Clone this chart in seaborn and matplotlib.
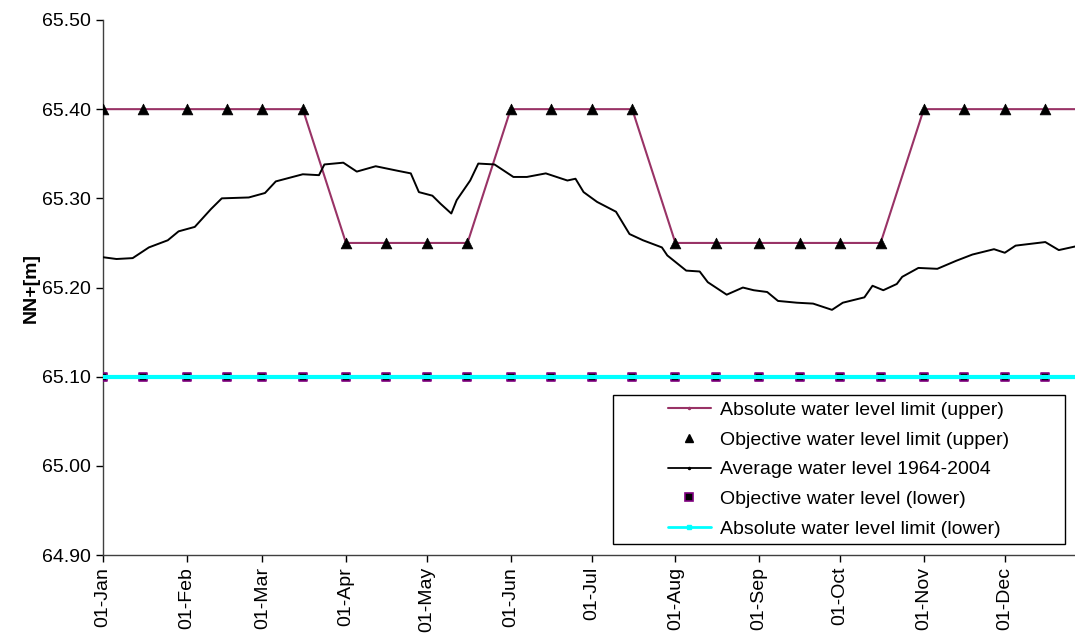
import matplotlib

matplotlib.use("Agg")
import matplotlib.pyplot as plt
import seaborn as sns
from matplotlib.lines import Line2D
from matplotlib.patches import Rectangle
from matplotlib.ticker import FormatStrFormatter


COLORS = {
    "upper": "#993366",
    "average": "#000000",
    "lower_obj_face": "#000000",
    "lower_obj_edge": "#800080",
    "lower": "#00FFFF",
}

# day-of-year index (0 = 01-Jan)
MONTH_START_DAYS = [0, 31, 59, 90, 120, 151, 181, 212, 243, 273, 304, 334]
MONTH_LABELS = ["01-Jan", "01-Feb", "01-Mar", "01-Apr", "01-May", "01-Jun",
                "01-Jul", "01-Aug", "01-Sep", "01-Oct", "01-Nov", "01-Dec"]

# objective points on the 1st and 16th of each month
OBJ_DAYS = [0, 15, 31, 46, 59, 74, 90, 105, 120, 135, 151, 166,
            181, 196, 212, 227, 243, 258, 273, 288, 304, 319, 334, 349]
OBJ_UPPER = [65.40, 65.40, 65.40, 65.40, 65.40, 65.40,
             65.25, 65.25, 65.25, 65.25,
             65.40, 65.40, 65.40, 65.40,
             65.25, 65.25, 65.25, 65.25, 65.25, 65.25,
             65.40, 65.40, 65.40, 65.40]
OBJ_LOWER = [65.10] * len(OBJ_DAYS)

# absolute upper limit breakpoints
ABS_UPPER_DAYS = [0, 74, 90, 135, 151, 196, 212, 288, 304, 364]
ABS_UPPER = [65.40, 65.40, 65.25, 65.25, 65.40, 65.40, 65.25, 65.25, 65.40, 65.40]

ABS_LOWER_DAYS = [0, 364]
ABS_LOWER = [65.10, 65.10]

# average water level 1964-2004
AVG_DAYS = [0, 5, 11, 17, 24, 28, 34, 40, 44, 54, 60, 64, 74, 80, 82, 89,
            94, 101, 109, 114, 117, 122, 125, 129, 131, 136, 139, 145, 152,
            157, 164, 172, 175, 178, 183, 190, 195, 200, 207, 209, 216, 221,
            224, 231, 237, 241, 246, 250, 257, 263, 270, 274, 282, 285, 289,
            294, 296, 302, 309, 316, 322, 330, 334, 338, 349, 354, 360]
AVG_LEVEL = [65.234, 65.232, 65.233, 65.245, 65.253, 65.263, 65.268, 65.288,
             65.300, 65.301, 65.306, 65.319, 65.327, 65.326, 65.338, 65.340,
             65.330, 65.336, 65.331, 65.328, 65.307, 65.303, 65.294, 65.283,
             65.298, 65.320, 65.339, 65.338, 65.324, 65.324, 65.328, 65.320,
             65.322, 65.307, 65.296, 65.285, 65.260, 65.253, 65.245, 65.236,
             65.219, 65.218, 65.206, 65.192, 65.200, 65.197, 65.195, 65.185,
             65.183, 65.182, 65.175, 65.183, 65.189, 65.202, 65.197, 65.204,
             65.212, 65.222, 65.221, 65.230, 65.237, 65.243, 65.239, 65.247,
             65.251, 65.242, 65.246]

LABELS = [
    "Absolute water level limit (upper)",
    "Objective water level limit (upper)",
    "Average water level 1964-2004",
    "Objective water level (lower)",
    "Absolute water level limit (lower)",
]


sns.set_style("ticks")
plt.rcParams["font.family"] = ["Liberation Sans", "DejaVu Sans"]
for key in ["text.color", "axes.labelcolor", "xtick.color", "ytick.color"]:
    plt.rcParams[key] = "black"

fig = plt.figure(figsize=(10.75, 6.44), dpi=100)
ax = fig.add_axes([0.0958, 0.138, 0.9042, 0.831])

sns.lineplot(x=ABS_UPPER_DAYS, y=ABS_UPPER, ax=ax, color=COLORS["upper"],
             linewidth=1.5, zorder=2)
sns.lineplot(x=AVG_DAYS, y=AVG_LEVEL, ax=ax, color=COLORS["average"],
             linewidth=1.4, zorder=3)
sns.scatterplot(x=OBJ_DAYS, y=OBJ_UPPER, ax=ax, marker="^", s=60,
                color="black", edgecolor="black", linewidth=0.5, zorder=4)
sns.scatterplot(x=OBJ_DAYS, y=OBJ_LOWER, ax=ax, marker="s", s=32,
                color=COLORS["lower_obj_face"], edgecolor=COLORS["lower_obj_edge"],
                linewidth=1.2, zorder=4)
sns.lineplot(x=ABS_LOWER_DAYS, y=ABS_LOWER, ax=ax, color=COLORS["lower"],
             linewidth=3, zorder=5)

ax.set_xlim(0, 360)
ax.set_ylim(64.90, 65.50)
ax.set_yticks([64.90, 65.00, 65.10, 65.20, 65.30, 65.40, 65.50])
ax.yaxis.set_major_formatter(FormatStrFormatter("%.2f"))
ax.set_xticks(MONTH_START_DAYS)
ax.set_xticklabels(MONTH_LABELS, rotation=90)
ax.tick_params(axis="both", labelsize=14, direction="out", length=5,
               width=1, color="black", labelcolor="black")
ax.set_ylabel("NN+[m]", fontsize=14, fontweight="bold", labelpad=2)
ax.set_xlabel("")
ax.grid(False)
for side in ["top", "right"]:
    ax.spines[side].set_visible(False)
for side in ["left", "bottom"]:
    ax.spines[side].set_color("#404040")
    ax.spines[side].set_linewidth(1)

handles = [
    Line2D([], [], color=COLORS["upper"], linewidth=1.5, marker=".",
           markersize=3),
    Line2D([], [], color="black", linestyle="none", marker="^", markersize=6),
    Line2D([], [], color="black", linewidth=1.3, marker=".", markersize=3),
    Line2D([], [], color="black", linestyle="none", marker="s", markersize=6,
           markeredgecolor=COLORS["lower_obj_edge"], markeredgewidth=1.2),
    Line2D([], [], color=COLORS["lower"], linewidth=2, marker="s",
           markersize=3),
]

box = Rectangle((0.525, 0.0206), 0.465, 0.278, transform=ax.transAxes,
                facecolor="white", edgecolor="black", linewidth=1, zorder=9)
ax.add_patch(box)
leg = ax.legend(handles, LABELS, loc="center", bbox_to_anchor=(0.757, 0.16),
                frameon=False, fontsize=14, handlelength=2.2,
                handletextpad=0.5, labelspacing=0.62, borderpad=0.2)
leg.set_zorder(10)
for text in leg.get_texts():
    text.set_color("black")

fig.savefig("out.png", dpi=100)
